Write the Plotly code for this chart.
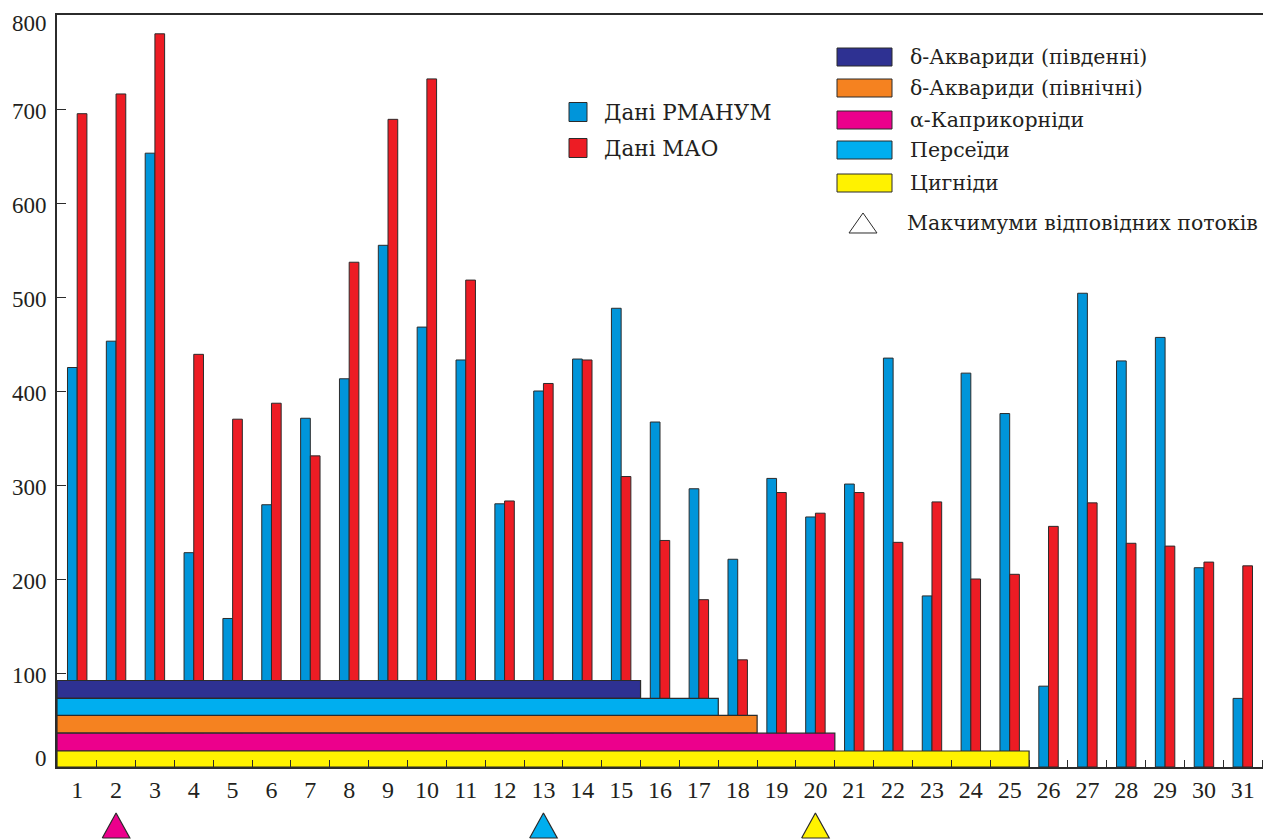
import plotly.graph_objects as go

# ---------------- data ----------------
days = list(range(1, 32))
rmanum = [425, 453, 653, 228, 158, 279, 371, 413, 555, 468, 433, 280, 400, 434, 488,
          367, 296, 221, 307, 266, 301, 435, 182, 419, 376, 86, 504, 432, 457, 212, 73]
mao = [695, 716, 780, 439, 370, 387, 331, 537, 689, 732, 518, 283, 408, 433, 309,
       241, 178, 114, 292, 270, 292, 239, 282, 200, 205, 256, 281, 238, 235, 218, 214]
series_names = ["Дані РМАНУМ", "Дані МАО"]

shower_names = ["δ-Аквариди (південні)", "δ-Аквариди (північні)", "α-Каприкорніди",
                "Персеїди", "Цигніди"]
shower_end = [15.5, 18.5, 20.5, 17.5, 25.5]
shower_low = [73, 36, 17, 55, 0]
shower_high = [92, 55, 36, 73, 17]
max_days = [2, 13, 20]
max_shower = [2, 3, 4]
max_label = "Макчимуми відповідних потоків"

y_ticks = [0, 100, 200, 300, 400, 500, 600, 700, 800]

# ---------------- style ----------------
bar_colors = ["#0095da", "#ed1c24"]
shower_colors = ["#2e3192", "#f58220", "#ec008c", "#00aeef", "#fff200"]
EDGE = "#2b2b2b"
TICK_FONT = "Liberation Serif"
LEG_FONT = "DejaVu Serif"
TXT = "#231f20"

W, H = 1264, 839
ML, MR, MT, MB = 57, 1, 15, 0
PW, PH = W - ML - MR, H - MT - MB
X_RANGE = [0.48, 31.52]


def px(x):
    return (x - ML) / PW


def py(y):
    return min(1.0, max(0.0, (H - MB - y) / PH))


fig = go.Figure()

for name, vals, col in zip(series_names, [rmanum, mao], bar_colors):
    fig.add_trace(go.Bar(x=days, y=vals, name=name, showlegend=False,
                         marker=dict(color=col, line=dict(color=EDGE, width=1))))

for i in range(len(shower_names)):
    x0, x1 = X_RANGE[0], shower_end[i]
    lo, hi = shower_low[i], shower_high[i]
    fig.add_trace(go.Scatter(x=[x0, x1, x1, x0, x0], y=[lo, lo, hi, hi, lo],
                             mode="lines", fill="toself", fillcolor=shower_colors[i],
                             line=dict(color=EDGE, width=1.2), hoverinfo="skip",
                             showlegend=False))

HALF = 0.355
for d, s in zip(max_days, max_shower):
    fig.add_trace(go.Scatter(x=[d - HALF, d + HALF, d, d - HALF], y=[0, 0, 1, 0],
                             xaxis="x", yaxis="y3", mode="lines", fill="toself",
                             fillcolor=shower_colors[s], line=dict(color=EDGE, width=1.2),
                             hoverinfo="skip", showlegend=False))

shapes = []
annotations = []
# y tick labels (end labels sit slightly inside, as in the original)
for v in y_ticks:
    shift = 9 if v == y_ticks[0] else (-8 if v == y_ticks[-1] else -2)
    annotations.append(dict(x=0, xref="paper", y=v, yref="y", text=str(v),
                            showarrow=False, xanchor="right", yanchor="middle",
                            xshift=-8, yshift=shift,
                            font=dict(family=TICK_FONT, size=23, color=TXT)))
# legend 1
for k, (name, col) in enumerate(zip(series_names, bar_colors)):
    yc = 112 + k * 36
    shapes.append(dict(type="rect", xref="paper", yref="paper",
                       x0=px(569), x1=px(587), y0=py(yc - 9.5), y1=py(yc + 9.5),
                       fillcolor=col, line=dict(color=EDGE, width=1)))
    annotations.append(dict(x=px(602), y=py(yc), xref="paper", yref="paper", text=name,
                            showarrow=False, xanchor="left", yanchor="middle",
                            font=dict(family=LEG_FONT, size=21.5, color=TXT)))
# legend 2
row_y = [57, 88, 120, 150, 183]
for k, name in enumerate(shower_names):
    yc = row_y[k]
    shapes.append(dict(type="rect", xref="paper", yref="paper",
                       x0=px(837), x1=px(892), y0=py(yc - 9), y1=py(yc + 9),
                       fillcolor=shower_colors[k], line=dict(color=EDGE, width=1)))
    annotations.append(dict(x=px(908), y=py(yc), xref="paper", yref="paper", text=name,
                            showarrow=False, xanchor="left", yanchor="middle",
                            font=dict(family=LEG_FONT, size=20.5, color=TXT)))
tri = "M {:.5f} {:.5f} L {:.5f} {:.5f} L {:.5f} {:.5f} Z".format(
    px(849), py(233), px(877), py(233), px(863), py(213))
shapes.append(dict(type="path", xref="paper", yref="paper", path=tri,
                   fillcolor="white", line=dict(color=EDGE, width=1)))
annotations.append(dict(x=px(905), y=py(223), xref="paper", yref="paper", text=max_label,
                        showarrow=False, xanchor="left", yanchor="middle",
                        font=dict(family=LEG_FONT, size=20.5, color=TXT)))

fig.update_layout(
    template="none",
    width=W, height=H, autosize=False,
    margin=dict(l=ML, r=MR, t=MT, b=MB, pad=0, autoexpand=False),
    paper_bgcolor="white", plot_bgcolor="white",
    barmode="group", bargap=0.5, bargroupgap=0,
    showlegend=False,
    font=dict(family=TICK_FONT, color=TXT),
    xaxis=dict(range=X_RANGE, domain=[0, 1], anchor="y", automargin=False,
               tickmode="array", tickvals=days, ticktext=[str(d) for d in days],
               ticks="", showgrid=False, zeroline=False,
               showline=True, linecolor=EDGE, linewidth=1.5, mirror=True,
               tickfont=dict(family=TICK_FONT, size=24, color=TXT), ticklabelstandoff=0,
               minor=dict(tickmode="array", tickvals=[d + 0.5 for d in days],
                          ticks="inside", ticklen=7, tickcolor=EDGE, tickwidth=1.2,
                          showgrid=False)),
    yaxis=dict(range=[0, 800], domain=[py(767), 1], anchor="x", automargin=False,
               tickmode="array", tickvals=y_ticks, ticks="inside", ticklen=9,
               tickcolor=EDGE, tickwidth=1.2, showgrid=False, zeroline=False,
               showline=True, linecolor=EDGE, linewidth=1.5, showticklabels=False),
    yaxis3=dict(range=[-0.04, 1.048], domain=[0, py(811.8)], anchor="x",
                visible=False, fixedrange=True, automargin=False, showgrid=False,
                zeroline=False),
    shapes=shapes, annotations=annotations,
)

fig.write_html("out.html", config={"displayModeBar": False, "responsive": False},
               post_script="document.body.style.margin='0';"
                           "document.documentElement.style.overflow='hidden';"
                           "document.body.style.overflow='hidden';")
